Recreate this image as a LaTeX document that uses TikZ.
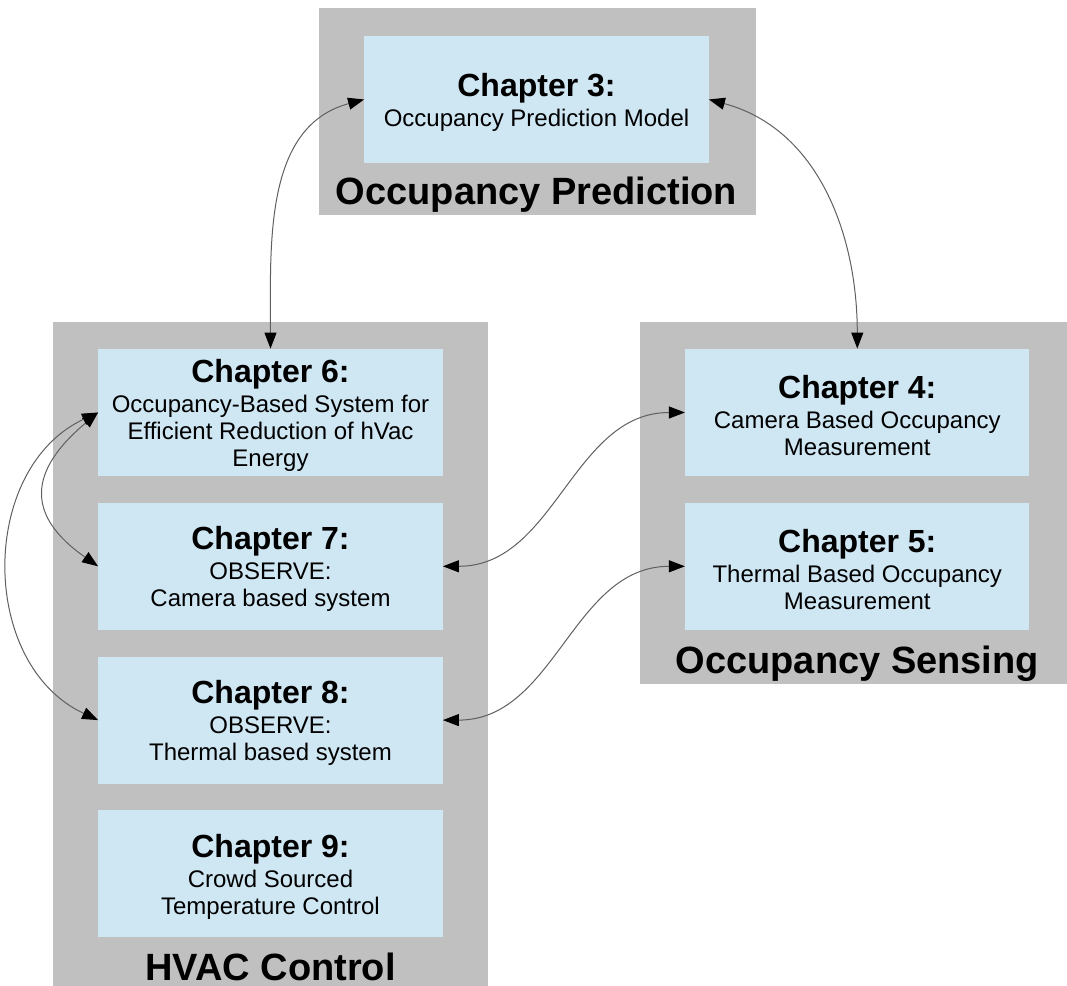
\documentclass[tikz,border=0pt]{standalone}
\usepackage{fontspec}
\setmainfont{Liberation Sans}
\usepackage{tikz}
\usetikzlibrary{arrows.meta,positioning,calc,backgrounds}
\definecolor{grpgray} {RGB}{192,192,192}
\definecolor{chapblue}{RGB}{207,230,243}
\definecolor{arrgray} {RGB}{ 95, 95, 95}
\newcommand{\chaphead}{\fontsize{16}{13.5}\selectfont\bfseries\rule{0pt}{14.4pt}}
\tikzset{
  chap/.style={fill=chapblue,minimum width=172pt,minimum height=63.5pt,
               inner sep=0pt,align=center,
               font=\fontsize{12}{13.5}\selectfont},
  grp/.style={fill=grpgray},
  grplbl/.style={font=\fontsize{19}{22}\selectfont\bfseries,anchor=base},
  arr/.style={{Triangle[length=8pt,width=6pt,black]}-{Triangle[length=8pt,width=6pt,black]},
              line width=0.5pt,color=arrgray},
}
\begin{document}
\begin{tikzpicture}[node distance=13pt and 121pt]
  \useasboundingbox (-135.25pt,206.25pt) rectangle (398.25pt,-286.75pt);
  \node[chap](c6){{\chaphead Chapter 6:}\\[1.5pt]Occupancy-Based System for\\Efficient Reduction of hVac\\Energy};
  \node[chap,below=of c6](c7){{\chaphead Chapter 7:}\\[1.5pt]OBSERVE:\\Camera based system};
  \node[chap,below=of c7](c8){{\chaphead Chapter 8:}\\[1.5pt]OBSERVE:\\Thermal based system};
  \node[chap,below=of c8](c9){{\chaphead Chapter 9:}\\[1.5pt]Crowd Sourced\\Temperature Control};
  \node[chap,right=of c6](c4){{\chaphead Chapter 4:}\\[1.5pt]Camera Based Occupancy\\Measurement};
  \node[chap,below=of c4](c5){{\chaphead Chapter 5:}\\[1.5pt]Thermal Based Occupancy\\Measurement};
  \node[chap](c3) at (133pt,156.5pt){{\chaphead Chapter 3:}\\[1.5pt]Occupancy Prediction Model};

  % grey groups
  \begin{scope}[on background layer]
    \fill[grp] ($(c3.north west)+(-22.5pt,14pt)$) rectangle ($(c3.south east)+(23.5pt,-26pt)$);
    \fill[grp] ($(c6.north west)+(-22.5pt,13.5pt)$) rectangle ($(c9.south east)+(22.5pt,-28pt)$);
    \fill[grp] ($(c4.north west)+(-22.5pt,13.5pt)$) rectangle ($(c5.south east)+(22.5pt,-27pt)$);
  \end{scope}
  \node[grplbl](lpred) at ($(c3.south)+(0,-20.5pt)$) {Occupancy Prediction};
  \node[grplbl](lhvac) at ($(c9.south)+(0,-21.5pt)$) {HVAC Control};
  \node[grplbl](lsens) at ($(c5.south)+(0,-21.5pt)$) {Occupancy Sensing};

  \draw[arr](c3.west) to[out=195,in=90] (c6.north);
  \draw[arr](c3.east) to[out=-15,in=90] (c4.north);
  \draw[arr](c4.west) to[out=180,in=0] (c7.east);
  \draw[arr](c5.west) to[out=180,in=0] (c8.east);
  \draw[arr](c6.west) to[out=220,in=145,looseness=1.5] (c7.west);
  \draw[arr](c6.west) to[out=205,in=155,looseness=1.1] (c8.west);
\end{tikzpicture}
\end{document}
